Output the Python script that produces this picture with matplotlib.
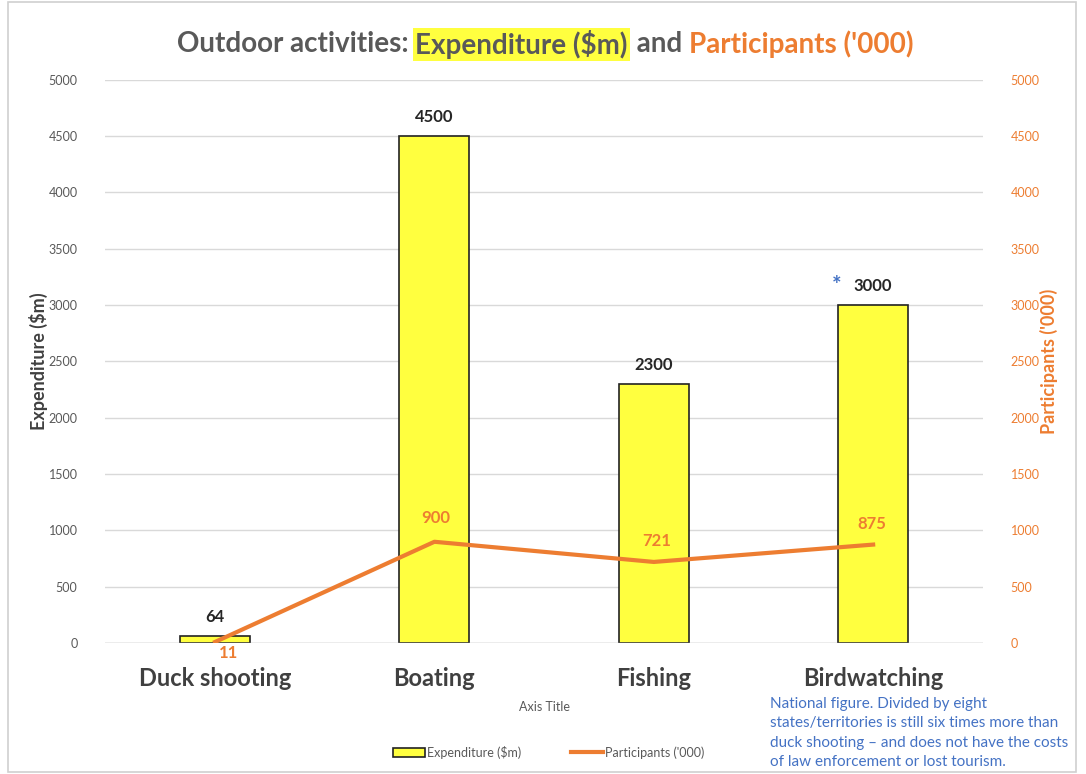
import matplotlib.pyplot as plt
from matplotlib.patches import Rectangle, Patch
from matplotlib.lines import Line2D

plt.rcParams['font.family'] = ['Lato', 'DejaVu Sans']

# Chart data
activities = ['Duck shooting', 'Boating', 'Fishing', 'Birdwatching']
expenditure = [64, 4500, 2300, 3000]
participants = [11, 900, 721, 875]
yticks = [0, 500, 1000, 1500, 2000, 2500, 3000, 3500, 4000, 4500, 5000]

orange = '#ED7D31'
gray = '#595959'

fig = plt.figure(figsize=(10.86, 7.74), dpi=100)
ax = fig.add_axes([0.097, 0.169, 0.808, 0.728])
ax2 = ax.twinx()

x = range(len(activities))
ax.bar(x, expenditure, width=0.32, color='#FFFF3F', edgecolor='#222222',
       linewidth=1.2, zorder=2)
ax2.plot(x, participants, color=orange, linewidth=3, zorder=3)

for axis in (ax, ax2):
    axis.set_ylim(0, 5000)
    axis.set_yticks(yticks)
    for s in axis.spines.values():
        s.set_visible(False)
ax.set_xlim(-0.5, 3.5)
ax.grid(axis='y', color='#d9d9d9', linewidth=1, zorder=0)
ax.set_axisbelow(True)
ax.axhline(0, color='#bfbfbf', linewidth=1)

ax.set_xticks(list(x))
ax.set_xticklabels(activities, fontsize=17, fontweight='bold', color='#404040')
ax.tick_params(axis='x', length=0, pad=17)
ax.tick_params(axis='y', length=0, labelsize=9, labelcolor=gray, pad=20)
ax2.tick_params(axis='y', length=0, labelsize=9, labelcolor=orange, pad=20)

ax.set_ylabel('Expenditure ($m)', fontsize=13, fontweight='bold', color='#404040',
              labelpad=0)
ax2.set_ylabel("Participants ('000)", fontsize=13, fontweight='bold', color=orange,
               labelpad=0)
ax.set_xlabel('Axis Title', fontsize=9, color=gray, labelpad=8)

# bar value labels
for i, v in enumerate(expenditure):
    ax.annotate(str(v), (i, v), xytext=(0, 8), textcoords='offset points',
                ha='center', va='bottom', fontsize=12, fontweight='bold',
                color='#262626')

# line value labels
offsets = [(10, -8), (1, 17), (2, 15), (-1, 15)]
for i, v in enumerate(participants):
    ax2.annotate(str(v), (i, v), xytext=offsets[i], textcoords='offset points',
                 ha='center', va='center', fontsize=12, fontweight='bold',
                 color=orange)

ax2.annotate('*', (3, 3000), xytext=(-26, 14), textcoords='offset points',
             ha='center', va='center', fontsize=16, fontweight='bold',
             color='#4472C4')

# title with coloured parts
t1 = fig.text(0.163, 0.943, 'Outdoor activities: ', fontsize=20,
              fontweight='bold', color=gray, va='center')
t2 = fig.text(0, 0, 'Expenditure ($m)', fontsize=20, fontweight='bold',
              color=gray, va='center',
              bbox=dict(facecolor='#FFFF3F', edgecolor='none', pad=1.5))
t3 = fig.text(0, 0, ' and ', fontsize=20, fontweight='bold', color=gray,
              va='center')
t4 = fig.text(0, 0, "Participants ('000)", fontsize=20, fontweight='bold',
              color=orange, va='center')
fig.canvas.draw()
r = fig.canvas.get_renderer()
prev = t1
for t in (t2, t3, t4):
    bb = prev.get_window_extent(renderer=r)
    t.set_position((bb.x1 / fig.bbox.width + (0.002 if t is t3 else 0), 0.943))
    prev = t
    fig.canvas.draw()

# legend
handles = [Patch(facecolor='#FFFF3F', edgecolor='#222222', linewidth=1.2),
           Line2D([0], [0], color=orange, linewidth=3)]
fig.legend(handles, ['Expenditure ($m)', "Participants ('000)"],
           loc='center', bbox_to_anchor=(0.505, 0.028), ncol=2, frameon=False,
           fontsize=9, labelcolor=gray, handlelength=2.6, handletextpad=0.1,
           columnspacing=4)

fig.text(0.709, 0.1,
         'National figure. Divided by eight\n'
         'states/territories is still six times more than\n'
         'duck shooting \u2013 and does not have the costs\n'
         'of law enforcement or lost tourism.',
         fontsize=11, color='#4472C4', va='top', ha='left', linespacing=1.5)

fig.add_artist(Rectangle((0.007, 0.003), 0.984, 0.994, transform=fig.transFigure,
                         fill=False, edgecolor='#d0d0d0', linewidth=1.2))

fig.savefig('out.png', dpi=100)
